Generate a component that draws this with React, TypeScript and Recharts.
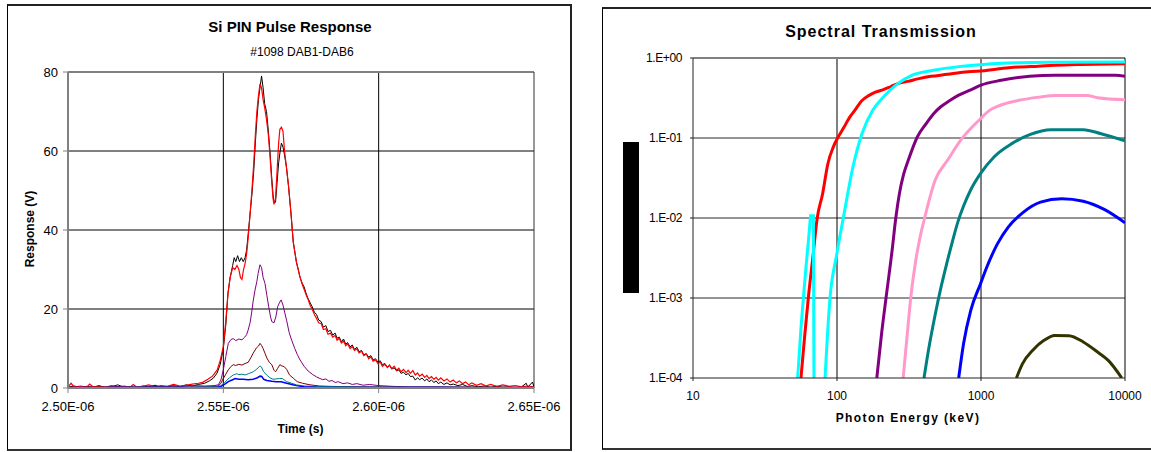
import React from "react";
import { LineChart, Line, XAxis, YAxis, ReferenceLine } from "recharts";

// ---------- Left chart: Si PIN Pulse Response (time in ns, response in V) ----------
const timeTicks = [2500, 2550, 2600, 2650];
const timeTickLabels = ["2.50E-06", "2.55E-06", "2.60E-06", "2.65E-06"];
const responseTicks = [0, 20, 40, 60, 80];

const dab1: [number, number][] = [
  [2500, 0.2], [2502, 0.5], [2504, 0.1], [2506, 0.4], [2508, 0.2], [2510, 0.6], [2512, 0.1], [2514, 0.3],
  [2516, 0.8], [2518, 0.2], [2520, 0.4], [2522, 0.1], [2524, 0.5], [2526, 0.3], [2528, 0.7], [2530, 0.2],
  [2532, 0.4], [2534, 0.6], [2536, 0.3], [2538, 0.8], [2540, 0.5], [2542, 0.9], [2544, 1.2], [2545.5, 1.8],
  [2546.8, 2.5], [2548, 3.8], [2549, 6], [2550, 10], [2550.8, 16], [2551.5, 24], [2552.2, 28], [2553, 31],
  [2553.5, 33], [2554, 32], [2554.6, 33.5], [2555.2, 32], [2555.8, 33], [2556.4, 32], [2557, 33], [2557.5, 35],
  [2558, 39], [2558.6, 44], [2559.2, 49], [2559.8, 55], [2560.3, 62], [2560.8, 68], [2561.3, 73], [2561.8, 76],
  [2562.3, 79], [2562.8, 76], [2563.3, 72], [2563.9, 70], [2564.5, 65], [2565, 60], [2565.6, 53], [2566, 49],
  [2566.3, 47], [2566.8, 47], [2567.3, 52], [2567.8, 57], [2568.3, 60], [2568.7, 62], [2569.2, 61], [2569.7, 59],
  [2570.3, 56], [2571, 51], [2571.8, 44], [2572.5, 37], [2573.5, 32],
  [2574.7, 28], [2575.4, 26.5], [2576, 25.6], [2576.7, 23.8], [2577.3, 22.6], [2578, 21.5], [2578.6, 20.6], [2579.3, 19.2],
  [2580, 18.6], [2580.7, 17.2], [2581.5, 16.8], [2582.2, 15.4], [2583, 15.8], [2583.7, 14.3], [2584.5, 14.6], [2585.2, 13.4],
  [2586, 13.9], [2586.6, 12.6], [2587.3, 12.9], [2588, 11.7], [2588.7, 12.4], [2589.4, 11.1], [2590, 11.5], [2590.8, 10.4],
  [2591.5, 10.9], [2592.2, 9.8], [2593, 10.3], [2593.7, 9.2], [2594.5, 9.5], [2595.2, 8.4], [2596, 8.7], [2596.8, 7.8],
  [2597.5, 8.2], [2598.2, 7.1], [2599, 7.4], [2599.8, 6.5], [2600.5, 6.9], [2601.2, 5.9], [2602, 6.2], [2602.8, 5.3],
  [2603.5, 5.7], [2604.2, 4.8], [2605, 5.1], [2605.8, 4.3], [2606.5, 4.6], [2607.2, 3.7], [2608, 4.0], [2608.8, 3.3],
  [2609.5, 3.7], [2610.2, 2.9], [2611, 3.0], [2611.8, 2.0], [2612.5, 2.6], [2613.2, 2.1], [2614, 2.5], [2614.8, 1.8],
  [2615.5, 2.3], [2616.2, 1.6], [2617, 2.0], [2617.8, 1.4], [2618.5, 1.8], [2619.2, 1.1], [2620, 1.5], [2621, 0.9],
  [2622, 1.3], [2623, 0.8], [2624, 1.0], [2625.5, 0.6], [2627, 0.9], [2628.5, 0.4], [2630, 0.6], [2632, 0.3],
  [2634, 0.5], [2636, 0.2], [2638, 0.4], [2640, 0.2], [2642, 0.3], [2644, 0.1], [2646, 0.3], [2647.5, 1.2],
  [2648, 0.2], [2649.5, 1.5], [2650, 0.3],
];

const dab2: [number, number][] = [
  [2500, 0.3], [2501, 1.2], [2502, 0.2], [2504, 0.5], [2506, 0.2], [2507, 1.0], [2508, 0.3], [2510, 0.4],
  [2512, 0.2], [2514, 0.6], [2516, 0.3], [2518, 0.5], [2520, 0.2], [2521, 0.9], [2522, 0.3], [2524, 0.4],
  [2526, 0.8], [2528, 0.3], [2530, 0.6], [2532, 0.4], [2534, 0.9], [2536, 0.5], [2538, 0.7], [2540, 1.0],
  [2542, 1.2], [2543.5, 1.5], [2545, 2.2], [2546.5, 3], [2548, 4.5], [2549, 7], [2550, 10.5], [2550.8, 17],
  [2551.5, 24], [2552.2, 28], [2553, 30.5], [2553.7, 30], [2554.4, 31], [2555, 30], [2555.5, 28], [2556, 27.5],
  [2556.5, 30], [2557, 31.5], [2557.5, 34], [2558, 38], [2558.6, 44], [2559.2, 50], [2559.8, 57], [2560.3, 64],
  [2560.8, 70], [2561.3, 74], [2561.8, 77], [2562.3, 76], [2562.8, 73], [2563.3, 71], [2563.9, 68], [2564.5, 64],
  [2565, 59], [2565.6, 52], [2566, 48], [2566.3, 46.5], [2566.8, 48], [2567.3, 55], [2567.8, 62], [2568.2, 65.5],
  [2568.7, 66], [2569.2, 65], [2569.7, 60], [2570.3, 56], [2571, 51], [2571.8, 44], [2572.5, 37], [2573.5, 32],
  [2574.7, 28], [2575.4, 26.2], [2576, 25], [2576.7, 23.5], [2577.3, 22.4], [2578, 20.8], [2578.6, 20], [2579.3, 18.6],
  [2580, 17.6], [2580.7, 16.5], [2581.5, 16.3], [2582.2, 14.8], [2583, 15], [2583.7, 13.6], [2584.5, 13.9], [2585.2, 12.9],
  [2586, 13.3], [2586.6, 12.1], [2587.3, 12.6], [2588, 11.4], [2588.7, 11.9], [2589.4, 10.7], [2590, 11.2], [2590.8, 10],
  [2591.5, 10.5], [2592.2, 9.5], [2593, 9.9], [2593.7, 8.9], [2594.5, 9.3], [2595.2, 8.2], [2596, 8.6], [2596.8, 7.4],
  [2597.5, 7.9], [2598.2, 6.8], [2599, 7.1], [2599.8, 6.1], [2600.5, 6.6], [2601.2, 5.5], [2602, 6.0], [2602.8, 5.2],
  [2603.5, 5.8], [2604.2, 4.9], [2605, 5.5], [2605.8, 4.5], [2606.5, 5.0], [2607.2, 4.1], [2608, 4.7], [2608.8, 3.9],
  [2609.5, 4.5], [2610.2, 3.7], [2611, 4.4], [2611.8, 3.3], [2612.5, 3.8], [2613.2, 3.0], [2614, 3.5], [2614.8, 2.7],
  [2615.5, 3.2], [2616.2, 2.4], [2617, 2.9], [2617.8, 2.2], [2618.5, 2.7], [2619.2, 2.0], [2620, 2.6], [2621, 1.8],
  [2622, 2.3], [2623, 1.5], [2624, 2.0], [2625, 1.3], [2626, 1.8], [2627, 1.1], [2628, 1.5], [2629, 0.8],
  [2630, 1.3], [2631.5, 0.7], [2633, 1.1], [2634.5, 0.5], [2636, 0.9], [2638, 0.4], [2640, 0.8], [2642, 0.4],
  [2644, 0.6], [2646, 0.3], [2648, 0.5], [2650, 0.3],
];

const dab3: [number, number][] = [
  [2500, 0.2], [2505, 0.3], [2510, 0.2], [2515, 0.4], [2520, 0.2], [2525, 0.3], [2530, 0.4], [2535, 0.3],
  [2540, 0.6], [2544, 0.5], [2547, 0.6], [2548.4, 0.8], [2549.2, 2], [2550, 4.6], [2550.8, 8], [2551.6, 11.3],
  [2552.5, 12.3], [2553.2, 12.5], [2554, 12], [2555, 12.4], [2556, 12.2], [2556.8, 12.8], [2557.5, 13.5], [2558, 14.7],
  [2558.6, 16.5], [2559.1, 19], [2559.6, 22], [2560.2, 24.8], [2560.8, 27], [2561.2, 29], [2561.8, 31.2], [2562.3, 30.5],
  [2562.8, 28], [2563.4, 26.5], [2564, 23.5], [2564.6, 20.6], [2565.2, 18], [2565.6, 16.8], [2566.3, 16.5], [2566.9, 18],
  [2567.5, 20.6], [2568, 21.5], [2568.6, 22.3], [2569.2, 21], [2569.8, 19], [2570.4, 17], [2571.2, 14], [2572, 12.1],
  [2573, 10], [2573.8, 8.5], [2574.7, 7.1], [2576, 5.5], [2577.3, 4.3], [2578.6, 3.5], [2580, 2.8], [2581.1, 2.4],
  [2582, 2.1], [2583, 2.3], [2584, 1.7], [2585, 1.9], [2586, 1.4], [2587, 1.6], [2588.5, 1.1], [2590, 1.3],
  [2591.5, 0.9], [2593, 1.1], [2595, 0.7], [2597, 0.9], [2600, 0.6], [2605, 0.4], [2610, 0.3], [2620, 0.3],
  [2630, 0.2], [2640, 0.2], [2650, 0.2],
];

const dab4: [number, number][] = [
  [2500, 0.1], [2510, 0.2], [2520, 0.1], [2530, 0.2], [2540, 0.2], [2546, 0.3], [2548.4, 0.5], [2549.2, 1.2],
  [2550, 2.4], [2550.8, 3.5], [2551.6, 4.6], [2552.4, 5.4], [2553.2, 5.9], [2554, 5.7], [2555, 6], [2556, 5.8],
  [2557, 6.2], [2558, 6.5], [2558.8, 7.6], [2559.6, 8.8], [2560.6, 10.1], [2561.3, 10.6], [2561.8, 11.3], [2562.3, 10.8],
  [2562.8, 10], [2563.4, 8.8], [2564, 7.6], [2564.8, 6.5], [2565.6, 5.9], [2566.3, 4.5], [2566.8, 4.1], [2567.5, 5],
  [2568.2, 5.9], [2568.8, 5.6], [2569.6, 5.4], [2570.4, 4.7], [2571.3, 3.3], [2572.5, 2.5], [2573.8, 1.6], [2575.5, 1.2],
  [2577.9, 0.8], [2581, 0.5], [2585, 0.4], [2595, 0.3], [2610, 0.2], [2630, 0.2], [2650, 0.1],
];

const dab5: [number, number][] = [
  [2500, 0.1], [2520, 0.2], [2540, 0.2], [2548, 0.3], [2549, 0.5], [2550.5, 1.4], [2551.1, 2], [2552, 2.6],
  [2553.2, 3.3], [2554.3, 3.6], [2555, 3.4], [2556, 3.5], [2557, 3.3], [2558, 3.6], [2559.6, 4.1], [2560.8, 4.8],
  [2561.8, 5.6], [2562.3, 5.3], [2562.9, 4.2], [2563.9, 3.3], [2565, 2.6], [2566, 2.2], [2567, 2.3], [2568, 2.4],
  [2569, 2.4], [2570.4, 1.6], [2572, 1.2], [2573.5, 0.8], [2576, 0.5], [2580, 0.4], [2590, 0.3], [2600, 0.2],
  [2620, 0.2], [2650, 0.1],
];

const dab6: [number, number][] = [
  [2500, 0.0], [2520, 0.1], [2540, 0.1], [2548, 0.2], [2549, 0.3], [2550.5, 1], [2551.6, 1.6], [2553, 2.1],
  [2553.8, 2.4], [2555, 2.2], [2556.4, 2.2], [2558, 2.1], [2559.6, 2.2], [2561, 2.6], [2561.8, 3], [2562.4, 2.9],
  [2563, 2.2], [2564, 1.9], [2565.6, 1.7], [2567, 1.6], [2568.6, 1.6], [2570.4, 1.2], [2572, 0.9], [2573.5, 0.6],
  [2576, 0.3], [2580, 0.2], [2600, 0.1], [2620, 0.1], [2650, 0.0],
];

// ---------- Right chart: Spectral Transmission (photon energy keV, transmission) ----------
const energyTicks = [10, 100, 1000, 10000];
const transTicks = [1e-4, 1e-3, 1e-2, 1e-1, 1];
const transTickLabels = ["1.E-04", "1.E-03", "1.E-02", "1.E-01", "1.E+00"];

const redT: [number, number][] = [
  [56.2, 1e-4], [59.5, 3.2e-4], [63.2, 1e-3], [67.8, 3.1e-3], [72.9, 1e-2], [79.4, 2.0e-2], [86.5, 4.8e-2], [94.2, 7.7e-2],
  [101, 0.1], [112, 0.137], [122, 0.18], [133, 0.222], [148, 0.29], [167, 0.341], [185, 0.375], [210, 0.402],
  [237, 0.44], [264, 0.478], [310, 0.51], [371, 0.552], [450, 0.59], [587, 0.625], [720, 0.66], [991, 0.688],
  [1300, 0.73], [1836, 0.772], [2500, 0.79], [3250, 0.81], [5000, 0.83], [10000, 0.85],
];
const cyanSpikeT: [number, number][] = [
  [53.3, 1e-4], [56.3, 4.4e-4], [58.4, 1e-3], [61, 2.5e-3], [63.5, 5.5e-3], [65.5, 1.07e-2], [68.5, 1.07e-2], [69.2, 1e-4],
];
const cyanT: [number, number][] = [
  [82.6, 1e-4], [89.1, 9.3e-4], [99.8, 3.58e-3], [112, 1.13e-2], [129, 4.34e-2], [149, 0.113], [177, 0.222], [210, 0.326],
  [264, 0.478], [331, 0.607], [467, 0.701], [700, 0.78], [991, 0.826], [1400, 0.86], [1836, 0.875], [3000, 0.885],
  [10000, 0.89],
];
const purpleT: [number, number][] = [
  [189, 1e-4], [204, 3.6e-4], [219, 1e-3], [242, 4.1e-3], [256, 1e-2], [271, 2e-2], [290, 3.5e-2], [313, 5.3e-2],
  [361, 0.103], [416, 0.151], [467, 0.2], [523, 0.244], [600, 0.29], [695, 0.341], [850, 0.4], [991, 0.455],
  [1380, 0.526], [2180, 0.59], [3250, 0.607], [8570, 0.607], [10000, 0.59],
];
const pinkT: [number, number][] = [
  [288, 1e-4], [306, 3.2e-4], [325, 1e-3], [353, 3e-3], [377, 5.7e-3], [406, 1e-2], [480, 2.96e-2], [587, 5.3e-2],
  [736, 9.8e-2], [991, 0.174], [1140, 0.22], [1303, 0.249], [1836, 0.296], [2590, 0.326], [3250, 0.341], [5430, 0.341],
  [6450, 0.319], [10000, 0.301],
];
const tealT: [number, number][] = [
  [402, 1e-4], [436.5, 2.49e-4], [478.6, 5.97e-4], [524.8, 1.31e-3], [575.4, 2.61e-3], [631, 4.97e-3], [692, 9e-3],
  [759, 1.43e-2], [851, 2.27e-2], [991, 3.58e-2], [1231, 5.8e-2], [1637, 8.5e-2], [2180, 0.11], [3070, 0.127],
  [5130, 0.127], [6820, 0.113], [10000, 0.092],
];
const blueT: [number, number][] = [
  [700, 1e-4], [757, 2.7e-4], [849, 7e-4], [991, 1.5e-3], [1098, 2.44e-3], [1303, 4.78e-3], [1546, 7.7e-3],
  [1944, 1.16e-2], [2590, 1.58e-2], [3640, 1.74e-2], [5130, 1.62e-2], [7230, 1.27e-2], [10000, 8.7e-3],
];
const oliveT: [number, number][] = [
  [1762, 1e-4], [1944, 1.51e-4], [2307, 2.26e-4], [2738, 2.96e-4], [3250, 3.41e-4], [4080, 3.38e-4], [5130, 2.82e-4],
  [6450, 2.11e-4], [7650, 1.66e-4], [9500, 1e-4],
];

const toPulse = (arr: [number, number][]) => arr.map(([t, v]) => ({ t, v }));
const toSpec = (arr: [number, number][]) => arr.map(([e, y]) => ({ e, y }));

const FONT = "'Liberation Sans', Arial, sans-serif";

const pulseSeries = [
  { name: "DAB1", data: dab1, color: "#000000", w: 1 },
  { name: "DAB2", data: dab2, color: "#FF0000", w: 1.2 },
  { name: "DAB3", data: dab3, color: "#800080", w: 1 },
  { name: "DAB4", data: dab4, color: "#800000", w: 1 },
  { name: "DAB5", data: dab5, color: "#008080", w: 1 },
  { name: "DAB6", data: dab6, color: "#0000FF", w: 1.5 },
];

const specSeries = [
  { name: "red", data: redT, color: "#FF0000", curve: "monotone" },
  { name: "cyanSpike", data: cyanSpikeT, color: "#00FFFF", curve: "linear" },
  { name: "cyan", data: cyanT, color: "#00FFFF", curve: "monotone" },
  { name: "purple", data: purpleT, color: "#800080", curve: "monotone" },
  { name: "pink", data: pinkT, color: "#FF99CC", curve: "monotone" },
  { name: "teal", data: tealT, color: "#008080", curve: "monotone" },
  { name: "blue", data: blueT, color: "#0000FF", curve: "monotone" },
  { name: "olive", data: oliveT, color: "#333300", curve: "monotone" },
];

const logIdx = (v: number) => Math.round(Math.log10(v)) + 4;

function Txt(props: { x: number; y: number; size: number; bold?: boolean; ls?: number; rotate?: boolean; children: React.ReactNode }) {
  const { x, y, size, bold, ls, rotate, children } = props;
  return (
    <div
      style={{
        position: "absolute",
        left: x - 200,
        top: y - size / 2,
        width: 400,
        textAlign: "center",
        fontFamily: FONT,
        fontSize: size,
        lineHeight: `${size}px`,
        fontWeight: bold ? 700 : 400,
        letterSpacing: ls ? ls : 0,
        whiteSpace: "nowrap",
        color: "#000",
        transform: rotate ? "rotate(-90deg)" : undefined,
        transformOrigin: "center center",
      }}
    >
      {children}
    </div>
  );
}

export default function App() {
  return (
    <div style={{ position: "absolute", left: 0, top: 0, width: 1151, height: 452, background: "#fff", overflow: "hidden" }}>
      {/* Left panel frame */}
      <div style={{ position: "absolute", left: 7, top: 4, width: 565, height: 447, boxSizing: "border-box", borderLeft: "1px solid #000", borderTop: "2px solid #222", borderRight: "2px solid #222", borderBottom: "2px solid #333" }} />
      {/* Right panel frame */}
      <div style={{ position: "absolute", left: 602, top: 7, width: 560, height: 443, boxSizing: "border-box", borderLeft: "1px solid #000", borderTop: "2px solid #222", borderBottom: "2px solid #333" }} />

      <div style={{ position: "absolute", left: 0, top: 0 }}>
        <LineChart width={580} height={452} margin={{ top: 72, right: 46, bottom: 0, left: 8 }}>
          <XAxis
            type="number"
            dataKey="t"
            domain={[2500, 2650]}
            ticks={timeTicks}
            interval={0}
            allowDataOverflow
            height={64}
            tickSize={5}
            tickMargin={9}
            axisLine={{ stroke: "#808080", strokeWidth: 2 }}
            tickLine={{ stroke: "#808080" }}
            tick={{ fill: "#000", fontSize: 13, fontFamily: FONT }}
            tickFormatter={(v: number, i: number) => timeTickLabels[i] ?? String(v)}
          />
          <YAxis
            type="number"
            domain={[0, 80]}
            ticks={responseTicks}
            interval={0}
            allowDataOverflow
            width={60}
            tickSize={5}
            tickMargin={5}
            axisLine={{ stroke: "#808080", strokeWidth: 2 }}
            tickLine={{ stroke: "#808080" }}
            tick={{ fill: "#000", fontSize: 13, fontFamily: FONT }}
          />
          {responseTicks.slice(1, -1).map((v) => (
            <ReferenceLine key={"h" + v} y={v} stroke="#000" strokeWidth={1} />
          ))}
          {timeTicks.slice(1, -1).map((v) => (
            <ReferenceLine key={"v" + v} x={v} stroke="#000" strokeWidth={1} />
          ))}
          <ReferenceLine y={80} stroke="#808080" strokeWidth={2} />
          <ReferenceLine x={2650} stroke="#333" strokeWidth={1} />
          {pulseSeries.map((s) => (
            <Line
              key={s.name}
              data={toPulse(s.data)}
              dataKey="v"
              type="linear"
              stroke={s.color}
              strokeWidth={s.w}
              dot={false}
              isAnimationActive={false}
            />
          ))}
        </LineChart>
      </div>

      <div style={{ position: "absolute", left: 600, top: 0 }}>
        <LineChart width={551} height={452} margin={{ top: 58, right: 26, bottom: 0, left: 13 }}>
          <XAxis
            type="number"
            dataKey="e"
            scale="log"
            domain={[10, 10000]}
            ticks={energyTicks}
            interval={0}
            allowDataOverflow
            height={74}
            tickSize={3}
            tickMargin={10}
            axisLine={{ stroke: "#222", strokeWidth: 1 }}
            tickLine={{ stroke: "#222" }}
            tick={{ fill: "#000", fontSize: 12, fontFamily: FONT }}
          />
          <YAxis
            type="number"
            scale="log"
            domain={[1e-4, 1]}
            ticks={transTicks}
            interval={0}
            allowDataOverflow
            width={80}
            tickSize={3}
            tickMargin={8}
            axisLine={{ stroke: "#222", strokeWidth: 1 }}
            tickLine={{ stroke: "#222" }}
            tick={{ fill: "#000", fontSize: 12, fontFamily: FONT, letterSpacing: -0.4 }}
            tickFormatter={(v: number) => transTickLabels[logIdx(v)] ?? String(v)}
          />
          {transTicks.slice(1, -1).map((v) => (
            <ReferenceLine key={"h" + v} y={v} stroke="#707070" strokeWidth={1.5} />
          ))}
          {energyTicks.slice(1, -1).map((v) => (
            <ReferenceLine key={"v" + v} x={v} stroke="#000" strokeWidth={1} />
          ))}
          <ReferenceLine y={1} stroke="#808080" strokeWidth={2} />
          <ReferenceLine x={10000} stroke="#000" strokeWidth={1} />
          {specSeries.map((s) => (
            <Line
              key={s.name}
              data={toSpec(s.data)}
              dataKey="y"
              type={s.curve as "monotone" | "linear"}
              stroke={s.color}
              strokeWidth={3}
              dot={false}
              isAnimationActive={false}
            />
          ))}
        </LineChart>
      </div>

      {/* Black block */}
      <div style={{ position: "absolute", left: 623, top: 142, width: 16, height: 151, background: "#000" }} />

      {/* Left texts */}
      <Txt x={290} y={26} size={15} bold>Si PIN Pulse Response</Txt>
      <Txt x={302} y={51.5} size={12}>#1098 DAB1-DAB6</Txt>
      <Txt x={29.5} y={229} size={12} bold rotate>Response (V)</Txt>
      <Txt x={300.5} y={429} size={12} bold>Time (s)</Txt>

      {/* Right texts */}
      <Txt x={881} y={32} size={16} bold ls={1}>Spectral Transmission</Txt>
      <Txt x={908} y={418} size={12} bold ls={1.4}>Photon Energy (keV)</Txt>
    </div>
  );
}
